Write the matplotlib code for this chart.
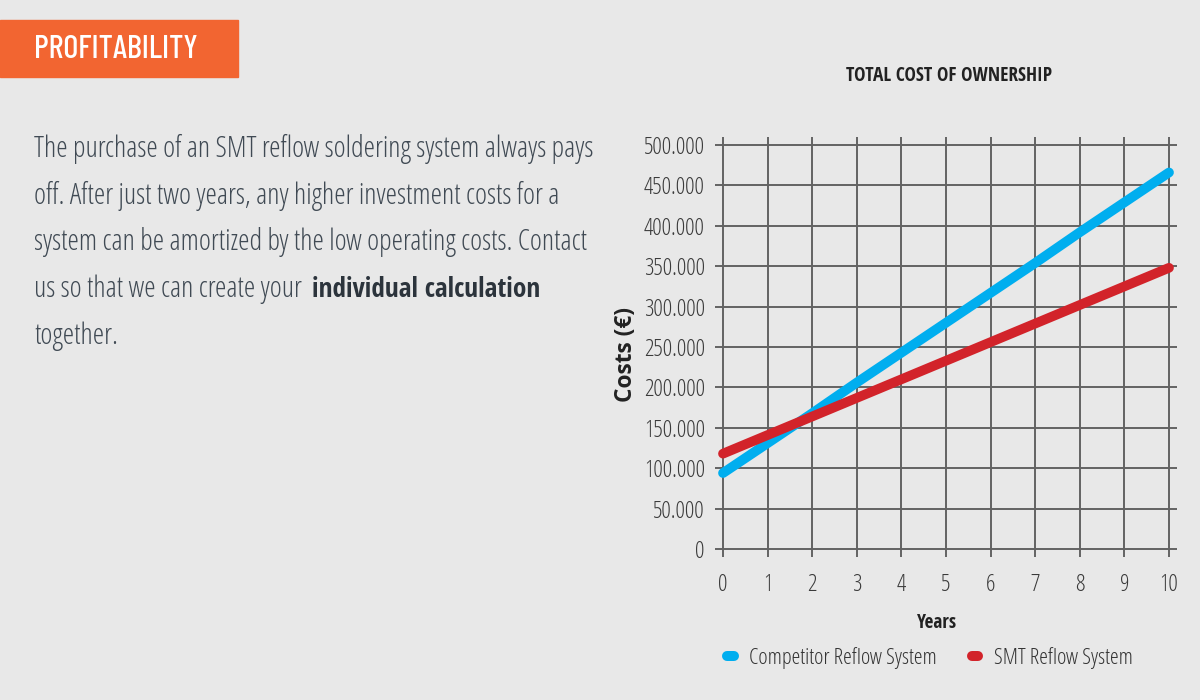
import matplotlib
matplotlib.use("Agg")
import matplotlib.pyplot as plt
from matplotlib.lines import Line2D
from matplotlib.font_manager import FontProperties, fontManager
from matplotlib.ticker import FuncFormatter

# ---------------- data ----------------
years = [0, 1, 2, 3, 4, 5, 6, 7, 8, 9, 10]
competitor = [94000, 131000, 168000, 206000, 243000, 280000, 317000, 354000, 392000, 429000, 466000]
smt = [118000, 141000, 164000, 187000, 210000, 233000, 256000, 279000, 302000, 325000, 348000]
series_labels = ["Competitor Reflow System", "SMT Reflow System"]
y_ticks = [0, 50000, 100000, 150000, 200000, 250000, 300000, 350000, 400000, 450000, 500000]
title = "TOTAL COST OF OWNERSHIP"
header = "PROFITABILITY"
x_label = "Years"
y_label = "Costs (€)"
para_lines = [
    "The purchase of an SMT reflow soldering system always pays",
    "off. After just two years, any higher investment costs for a",
    "system can be amortized by the low operating costs. Contact",
    "us so that we can create your ",
    "together.",
]
para_bold = "individual calculation"

# ---------------- fonts ----------------
FAM = ["Open Sans", "DejaVu Sans"]


def font_file(fname_end):
    for f in fontManager.ttflist:
        if f.fname.endswith(fname_end):
            return f.fname
    return None


_light = font_file("OpenSans-CondLight.ttf")
_bold = font_file("OpenSans-CondBold.ttf")
_head = font_file("BarlowCondensed-Medium.ttf")


def LIGHT(size):
    if _light:
        return FontProperties(fname=_light, size=size)
    return FontProperties(family=FAM, weight=300, stretch="condensed", size=size)


def BOLD(size):
    if _bold:
        return FontProperties(fname=_bold, size=size)
    return FontProperties(family=FAM, weight=700, stretch="condensed", size=size)


def HEAD(size):
    if _head:
        return FontProperties(fname=_head, size=size)
    return LIGHT(size)


def SANSBOLD(size):
    return FontProperties(family=FAM, weight=700, size=size)


BG = "#e8e8e8"
GRID = "#636363"
BLUE = "#00aeef"
RED = "#d2232a"
W, H = 1200, 700

fig = plt.figure(figsize=(12, 7), dpi=100, facecolor=BG)
renderer = fig.canvas.get_renderer()


def fx(px):
    return px / W


def fy(py):
    return 1 - py / H


def measure(s, fp_fn, size, rotation=0):
    t = fig.text(0, 0, s, fontproperties=fp_fn(size), rotation=rotation)
    bb = t.get_window_extent(renderer=renderer)
    t.remove()
    return max(bb.width, bb.height)


def fit_size(s, width, fp_fn, rotation=0):
    return 20.0 * width / measure(s, fp_fn, 20.0, rotation)


# header box
fig.patches.append(plt.Rectangle((0, fy(77)), fx(238), (77 - 20) / H,
                                 transform=fig.transFigure, color="#f26531", zorder=1))
hs = fit_size(header, 164, HEAD)
fig.text(fx(34.5), fy(49), header, fontproperties=HEAD(hs), color="white",
         va="center", ha="left", zorder=2)

# paragraph
para_base = [157, 203.7, 250.4, 297, 343.7]
PCOL = "#404a54"
ps = fit_size(para_lines[0], 560, LIGHT)
bs = fit_size(para_bold, 227, BOLD)
for i, (line, yy) in enumerate(zip(para_lines, para_base)):
    fig.text(fx(34), fy(yy), line, fontproperties=LIGHT(ps), color=PCOL,
             va="baseline", ha="left")
    if i == 3:
        fig.text(fx(312), fy(yy), para_bold, fontproperties=BOLD(bs), color="#2c343c",
                 va="baseline", ha="left")

# axes
x0, x1 = 723, 1169
y0, y1 = 549, 145
mx = 0.02
my = 1000
ppx = (x1 - x0) / 10.0
ppy = (y0 - y1) / 500000.0
left = x0 - mx * ppx
right = x1 + mx * ppx
bottom = y0 + my * ppy
top = y1 - my * ppy
ax = fig.add_axes([fx(left), fy(bottom), (right - left) / W, (bottom - top) / H])
ax.set_facecolor(BG)
ax.set_xlim(-mx, 10 + mx)
ax.set_ylim(-my, 500000 + my)
for s in ax.spines.values():
    s.set_visible(False)
ax.set_xticks(years)
ax.set_yticks(y_ticks)
ax.yaxis.set_major_formatter(FuncFormatter(lambda v, p: f"{int(v):,}".replace(",", ".")))
ax.grid(True, color=GRID, linewidth=1.4)
ax.set_axisbelow(True)
ts = fit_size("500.000", 59, LIGHT)
ax.tick_params(axis="both", which="both", direction="out", length=5, width=1.4,
               color=GRID, left=True, right=True, top=True, bottom=True,
               labelright=False, labeltop=False, labelcolor="#3a3a3a", labelsize=ts)
ax.tick_params(axis="y", pad=7.5)
ax.tick_params(axis="x", pad=12)
for lab in ax.get_xticklabels() + ax.get_yticklabels():
    lab.set_fontproperties(LIGHT(ts * 1.04))

ax.plot(years, competitor, color=BLUE, lw=7, solid_capstyle="round", clip_on=False, zorder=3)
ax.plot(years, smt, color=RED, lw=7, solid_capstyle="round", clip_on=False, zorder=3)

# title & axis labels
tsz = fit_size(title, 207, BOLD)
fig.text(fx(949.5), fy(76), title, fontproperties=BOLD(tsz), color="#222222",
         ha="center", va="center")
ysz = fit_size(y_label, 95, SANSBOLD, rotation=90)
fig.text(fx(626), fy(355), y_label, fontproperties=SANSBOLD(ysz), color="#222222",
         ha="center", va="center", rotation=90)
xsz = fit_size(x_label, 40, BOLD)
fig.text(fx(937), fy(623), x_label, fontproperties=BOLD(xsz), color="#222222",
         ha="center", va="center")

# legend
lsz = fit_size(series_labels[0], 188, LIGHT)
fs_px = lsz * 100 / 72.0
lw_pt = 7.2
cap_px = lw_pt * 100 / 72.0 / 2
handles = [Line2D([], [], color=BLUE, lw=lw_pt, solid_capstyle="round"),
           Line2D([], [], color=RED, lw=lw_pt, solid_capstyle="round")]
hl = (738.5 - 722 - 2 * cap_px) / fs_px
leg = fig.legend(handles, series_labels, loc="center left",
                 bbox_to_anchor=(fx(722 + cap_px), fy(658)),
                 ncol=2, frameon=False, handlelength=hl,
                 handletextpad=(749 - 738.5 + cap_px) / fs_px,
                 columnspacing=(967 + cap_px - 937) / fs_px,
                 prop=LIGHT(lsz),
                 borderaxespad=0, borderpad=0)
for t in leg.get_texts():
    t.set_color("#333333")

fig.savefig("out.png", dpi=100, facecolor=BG)
